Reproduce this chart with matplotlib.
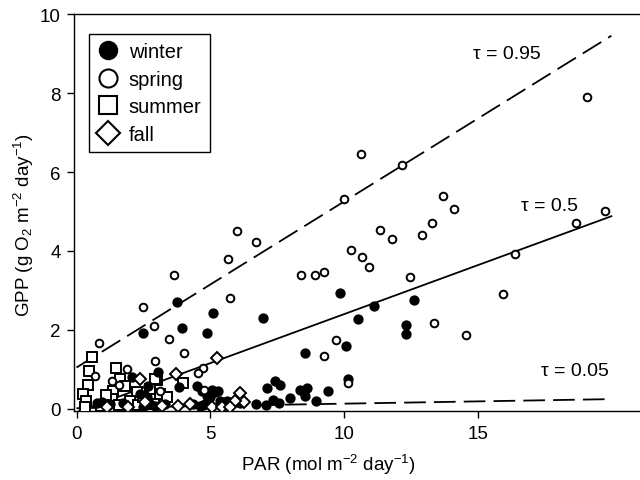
import numpy as np
import matplotlib.pyplot as plt
from matplotlib.lines import Line2D

plt.rcParams['font.family'] = ['Liberation Sans', 'DejaVu Sans']
plt.rcParams['mathtext.fontset'] = 'custom'
plt.rcParams['mathtext.rm'] = 'Liberation Sans'
plt.rcParams['mathtext.it'] = 'Liberation Sans:italic'

# ---- data (PAR, GPP) ----
winter_par = [9.85, 11.13, 12.62, 10.51, 12.33, 12.31, 10.06, 3.75, 5.09, 6.98, 2.47, 3.96,
              4.89, 8.54, 10.17, 7.43, 7.61, 7.13, 8.36, 8.63, 8.54, 9.39, 7.98, 7.36, 7.58,
              8.94, 6.71, 7.08, 4.99, 5.18, 5.36, 5.61, 4.74, 5.05, 5.30, 4.87, 3.06, 2.06,
              2.68, 3.83, 4.49, 4.68, 2.50, 2.75, 2.93, 2.62, 2.37, 4.37, 4.62, 4.80, 5.55,
              5.80, 0.75, 0.94, 1.25, 1.75, 3.31, 6.10]
winter_gpp = [2.94, 2.61, 2.75, 2.28, 2.13, 1.89, 1.60, 2.70, 2.42, 2.31, 1.93, 2.05,
              1.92, 1.42, 0.76, 0.71, 0.62, 0.52, 0.48, 0.54, 0.34, 0.45, 0.27, 0.24, 0.15,
              0.19, 0.13, 0.10, 0.30, 0.42, 0.21, 0.21, 0.10, 0.48, 0.45, 0.34, 0.93, 0.80,
              0.59, 0.55, 0.57, 0.46, 0.04, 0.13, 0.08, 0.30, 0.38, 0.13, 0.08, 0.13, 0.17,
              0.17, 0.15, 0.17, 0.13, 0.15, 0.13, 0.15]

spring_par = [19.76, 19.10, 18.66, 16.40, 15.96, 13.71, 14.12, 13.30, 13.36, 14.56, 10.64,
              12.18, 10.01, 12.93, 11.33, 11.78, 10.26, 10.68, 10.93, 8.39, 8.92, 9.24, 12.46,
              9.69, 5.99, 6.72, 5.65, 3.64, 2.50, 5.73, 2.90, 3.47, 0.85, 4.72, 9.26, 10.16,
              4.02, 2.93, 4.55, 1.88, 0.69, 1.32, 1.60, 3.12, 4.78]
spring_gpp = [5.00, 7.91, 4.70, 3.93, 2.91, 5.40, 5.07, 4.70, 2.17, 1.88, 6.45,
              6.18, 5.32, 4.41, 4.53, 4.30, 4.03, 3.86, 3.59, 3.39, 3.38, 3.48, 3.34,
              1.74, 4.51, 4.24, 3.79, 3.38, 2.57, 2.80, 2.11, 1.77, 1.67, 1.05, 1.33, 0.66,
              1.43, 1.22, 0.90, 1.00, 0.83, 0.72, 0.61, 0.46, 0.48]

summer_par = [0.57, 0.48, 1.48, 0.44, 0.23, 0.36, 1.63, 1.81, 3.00, 3.97, 1.38, 2.25,
              2.75, 3.12, 3.37, 1.32, 2.00, 0.30, 0.90, 1.60, 2.30, 2.90, 2.50, 1.10, 2.93]
summer_gpp = [1.31, 0.97, 1.03, 0.61, 0.38, 0.21, 0.76, 0.59, 0.74, 0.65, 0.46, 0.42,
              0.51, 0.38, 0.30, 0.25, 0.21, 0.05, 0.08, 0.10, 0.10, 0.12, 0.30, 0.35, 0.76]

fall_par = [5.27, 3.73, 2.37, 6.11, 6.27, 5.93, 5.05, 5.43, 5.74, 4.24, 2.56, 1.13,
            1.94, 3.18, 3.80]
fall_gpp = [1.28, 0.88, 0.76, 0.41, 0.17, 0.21, 0.04, 0.04, 0.04, 0.13, 0.17, 0.05,
            0.05, 0.08, 0.08]

# quantile regression lines: tau, intercept, slope
taus = [0.95, 0.5, 0.05]
intercepts = [1.05, -0.08, 0.02]
slopes = [0.42, 0.248, 0.0115]
par_max = 20.0

fig = plt.figure(figsize=(6.4, 4.81), dpi=100)
ax = fig.add_axes([0.1164, 0.1441, 0.8836, 0.8247])

xl = np.array([0, par_max])
styles = [dict(ls=(0, (12, 4.5))), dict(ls='-'), dict(ls=(0, (12, 4.5)))]
for b0, b1, st in zip(intercepts, slopes, styles):
    ax.plot(xl, b0 + b1 * xl, color='black', lw=1.3, zorder=2, **st)

ms = dict(mec='black', mew=1.4, ls='none', zorder=3)
ax.plot(summer_par, summer_gpp, marker='s', ms=7, mfc='white', **ms)
ax.plot(winter_par, winter_gpp, marker='o', ms=6, mfc='black', **ms)
ax.plot(spring_par, spring_gpp, marker='o', ms=5.5, mfc='white', **ms)
ax.plot(fall_par, fall_gpp, marker='D', ms=6.5, mfc='white', **ms)

# tau labels
for tau, (tx, ty) in zip(taus, [(16.1, 9.0), (17.7, 5.16), (18.64, 0.97)]):
    ax.text(tx, ty, "τ = %g" % tau, ha='center', va='center', fontsize=14)

ax.set_xlim(-0.075, 21.07)
ax.set_ylim(-0.043, 10)
ax.set_xticks([0, 5, 10, 15])
ax.set_yticks([0, 2, 4, 6, 8, 10])
ax.tick_params(direction='out', length=5, width=1, labelsize=13.5, pad=5)
ax.spines['right'].set_visible(False)
for s in ['left', 'bottom', 'top']:
    ax.spines[s].set_linewidth(1.0)

ax.set_xlabel("PAR (mol m$^{-2}$ day$^{-1}$)", fontsize=13.5)
ax.set_ylabel("GPP (g O$_2$ m$^{-2}$ day$^{-1}$)", fontsize=13.5)
ax.xaxis.set_label_coords(0.449, -0.105)
ax.yaxis.set_label_coords(-0.068, 0.47)

handles = [
    Line2D([], [], marker='o', ms=13, mfc='black', mec='black', ls='none'),
    Line2D([], [], marker='o', ms=13, mfc='white', mec='black', mew=1.5, ls='none'),
    Line2D([], [], marker='s', ms=13, mfc='white', mec='black', mew=1.5, ls='none'),
    Line2D([], [], marker='D', ms=12, mfc='white', mec='black', mew=1.5, ls='none'),
]
leg = ax.legend(handles, ['winter', 'spring', 'summer', 'fall'], loc='upper left',
                bbox_to_anchor=(0.026, 0.95), borderaxespad=0, fontsize=14.5,
                frameon=True, fancybox=False, edgecolor='black', framealpha=1,
                handlelength=1.0, handletextpad=0.55, labelspacing=0.42,
                borderpad=0.42)
leg.get_frame().set_linewidth(1.0)

fig.savefig("out.png", dpi=100)
